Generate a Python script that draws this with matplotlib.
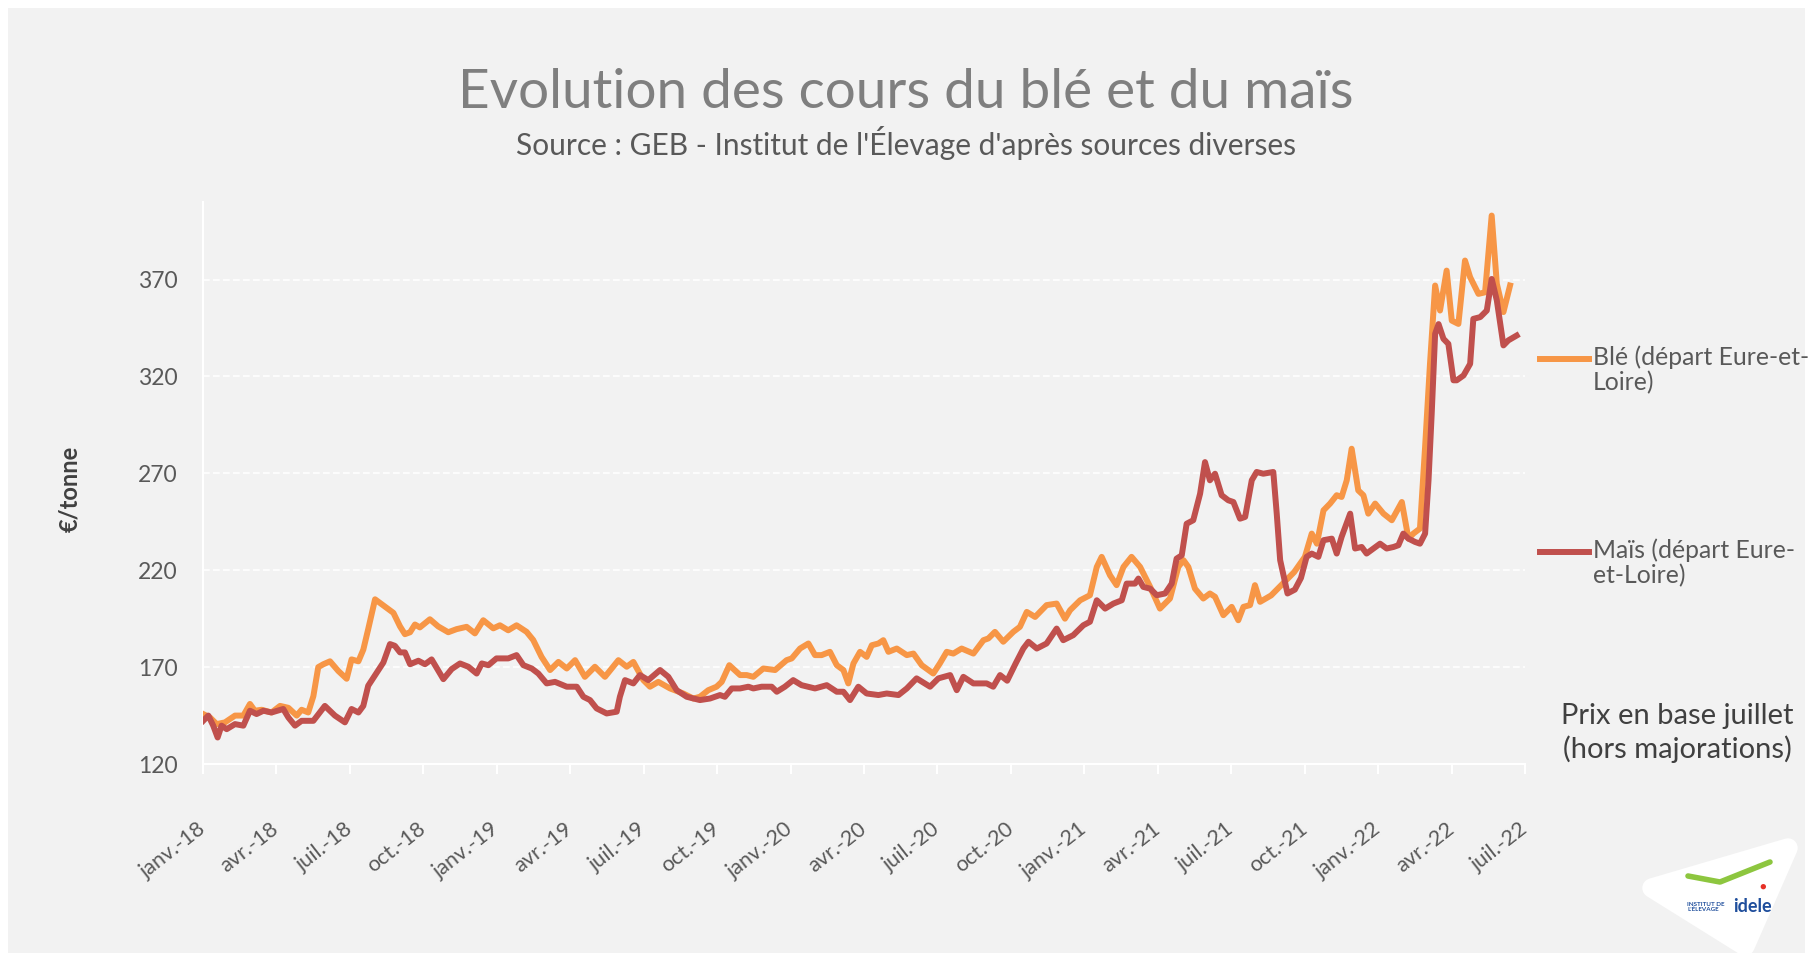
import matplotlib
matplotlib.use("Agg")
import matplotlib.pyplot as plt
from matplotlib.patches import Rectangle, Polygon
from matplotlib.lines import Line2D

plt.rcParams['font.family'] = ['Lato', 'DejaVu Sans']

# mois écoulés depuis janv. 2018 / prix en €/tonne
ble_mois = [0.01, 0.29, 0.56, 0.9, 1.31, 1.65, 1.92, 2.12, 2.4, 2.8, 3.15, 3.49, 3.83, 4.03, 4.3,
            4.51, 4.71, 4.92, 5.19, 5.53, 5.87, 6.07, 6.35, 6.55, 6.75, 7.03, 7.3, 7.78, 8.05, 8.25,
            8.46, 8.66, 8.86, 9.27, 9.61, 10.02, 10.36, 10.77, 11.11, 11.45, 11.86, 12.13, 12.47,
            12.81, 13.22, 13.49, 13.83, 14.18, 14.52, 14.86, 15.2, 15.6, 16.01, 16.42, 16.97, 17.31,
            17.58, 17.99, 18.26, 18.6, 19.08, 19.62, 20.03, 20.3, 20.64, 20.98, 21.19, 21.5, 21.94,
            22.21, 22.48, 22.89, 23.37, 23.84, 24.05, 24.39, 24.73, 25.0, 25.27, 25.61, 25.89, 26.16,
            26.36, 26.57, 26.84, 27.11, 27.32, 27.59, 27.79, 28.0, 28.34, 28.75, 29.02, 29.36, 29.83,
            30.1, 30.38, 30.65, 30.99, 31.47, 31.88, 32.08, 32.35, 32.69, 33.1, 33.37, 33.65, 33.99,
            34.46, 34.87, 35.21, 35.42, 35.83, 36.23, 36.51, 36.71, 37.05, 37.32, 37.6, 37.93, 38.28,
            38.69, 39.09, 39.5, 39.84, 40.05, 40.25, 40.52, 40.86, 41.13, 41.34, 41.68, 42.02, 42.29,
            42.5, 42.77, 42.97, 43.18, 43.63, 44.1, 44.57, 45.01, 45.29, 45.5, 45.77, 46.04, 46.31,
            46.51, 46.72, 46.92, 47.19, 47.4, 47.6, 47.88, 48.22, 48.56, 48.97, 49.24, 49.44, 49.71,
            49.92, 50.12, 50.33, 50.53, 50.8, 51.01, 51.28, 51.55, 51.76, 52.1, 52.37, 52.64, 52.85,
            53.12, 53.39]
ble_prix = [145.8, 144, 140.6, 141.5, 145, 145, 151, 147.5, 148, 146.6, 150, 149, 145, 148, 146.6,
            155, 170, 171.5, 173, 168, 164, 174, 173, 179, 189.6, 205, 202.5, 198, 191, 187,
            188, 192, 190.5, 194.7, 191, 188, 189.6, 190.8, 187.4, 194.2, 190, 191.6, 189,
            191.6, 188.2, 184, 175.3, 168.5, 172.7, 169.3, 173.6, 165, 170.2, 165, 173.6, 170.2,
            172.7, 163.3, 159.9, 162.4, 159, 156.4, 153.8, 154.7, 158.1, 159.9, 162.4, 171, 165.9,
            165.9, 165, 169.3, 168.5, 173.6, 174.5, 179.6, 182.2, 176.2, 176.2, 177.9, 171, 168.5,
            161.6, 171.9, 177.9, 175.3, 181.3, 182.2, 183.9, 177.9, 179.6, 176.2, 177, 171, 166.7,
            171.9, 177.9, 177, 179.6, 177, 183.9, 184.8, 188.2, 183.1, 188.2, 190.8, 198.5, 195.9,
            202, 202.8, 195, 199.4, 204.5, 207.1, 221.7, 226.9, 217.4, 212.3, 221.7, 226.9, 221.7,
            211.4, 200.2, 205.4, 221.7, 225.2, 221.7, 210.5, 205.4, 208, 206.3, 196.8, 201.1, 194.2,
            201.1, 202, 212.3, 203.7, 207, 213, 219, 226.9, 238.9, 233.7, 250.9, 254.4, 258.7,
            257.8, 266.4, 282.7, 261.2, 258.7, 249.2, 254.4, 249.2, 245.8, 255.2, 236.3, 238.9, 241.5,
            283.6, 326.5, 366.9, 354, 374.6, 348.8, 347.1, 379.8, 371.2, 362.6, 363.4, 403, 367.8,
            353.2, 366.9]

mais_mois = [0.01, 0.22, 0.42, 0.6, 0.76, 0.97, 1.31, 1.65, 1.92, 2.19, 2.47, 2.8, 3.28, 3.49, 3.76,
             4.03, 4.51, 4.98, 5.39, 5.8, 6.07, 6.35, 6.55, 6.75, 7.09, 7.37, 7.64, 7.84, 8.05, 8.25,
             8.46, 8.8, 9.07, 9.34, 9.82, 10.16, 10.5, 10.84, 11.18, 11.39, 11.66, 11.99, 12.47, 12.81,
             13.09, 13.43, 13.7, 14.04, 14.38, 14.86, 15.27, 15.54, 15.81, 16.08, 16.49, 16.9, 17.03,
             17.24, 17.58, 17.85, 18.19, 18.67, 19.01, 19.35, 19.76, 20.3, 20.71, 21.12, 21.32, 21.6,
             21.94, 22.28, 22.48, 22.82, 23.23, 23.44, 23.77, 24.11, 24.45, 25.0, 25.48, 25.89, 26.16,
             26.43, 26.77, 27.11, 27.59, 27.93, 28.41, 28.75, 29.15, 29.7, 30.04, 30.52, 30.79, 31.06,
             31.47, 32.01, 32.28, 32.56, 32.85, 33.2, 33.51, 33.72, 34.06, 34.46, 34.87, 35.14, 35.55,
             35.96, 36.23, 36.51, 36.85, 37.19, 37.53, 37.73, 38.07, 38.21, 38.41, 38.69, 38.96, 39.3,
             39.57, 39.77, 39.98, 40.18, 40.45, 40.73, 40.93, 41.13, 41.34, 41.61, 41.88, 42.09, 42.36,
             42.57, 42.84, 43.04, 43.31, 43.72, 43.86, 44.0, 44.3, 44.6, 44.85, 45.08, 45.29, 45.56,
             45.77, 46.11, 46.31, 46.51, 46.86, 47.06, 47.33, 47.53, 47.81, 48.08, 48.35, 48.63, 48.83,
             49.03, 49.24, 49.51, 49.71, 49.92, 50.06, 50.19, 50.33, 50.47, 50.67, 50.87, 51.08, 51.21,
             51.49, 51.76, 51.89, 52.17, 52.44, 52.64, 52.85, 53.12, 53.32, 53.66]
mais_prix = [142.3, 145, 139.8, 133.7, 139.8, 138, 140.6, 139.8, 147.5, 145.8, 147.5, 146.6, 148.4, 144, 139.8,
             142.3, 142.3, 150, 145, 141.5, 148.4, 146.6, 150, 160.4, 167, 172.4, 181.9, 181, 177.6, 177.6,
             171.5, 173.3, 171.5, 174, 163.8, 169, 171.9, 170.2, 166.7, 171.9, 171, 174.5, 174.5, 176.2,
             171, 169.3, 166.7, 161.6, 162.4, 159.9, 159.9, 154.7, 153, 148.7, 146.1, 147, 154.7,
             163.3, 161.6, 165.9, 163.3, 168.5, 165, 158.1, 154.7, 153, 153.8, 155.6, 154.7, 159,
             159, 159.9, 159, 159.9, 159.9, 157.3, 159.9, 163.3, 160.7, 159, 160.7, 157.3, 157.3,
             153, 159.9, 156.4, 155.6, 156.4, 155.6, 159, 164.2, 159.9, 164.2, 165.9, 158.1, 165,
             161.6, 161.6, 159.9, 165.9, 163, 172, 179.6, 183.1, 179.6, 182.2, 189.9, 183.9, 186.5,
             191.6, 193.4, 204.5, 200.2, 202.8, 204.5, 213.1, 213.1, 215.7, 211.4, 210.5, 207.1, 208,
             213.1, 226, 227.7, 244, 245.8, 259.5, 275.8, 266.4, 269.8, 258.7, 256.1, 255.2, 246.6,
             247.5, 266.4, 270.7, 269.8, 270.7, 249.2, 225.2, 208, 210, 216, 226.9, 228.6, 226.9,
             235.5, 236.3, 228.6, 237.2, 249.2, 231.2, 232, 228.6, 231.2, 233.7, 231.2, 232, 232.9,
             238.9, 236.3, 234.6, 233.7, 238.9, 266.4, 300.8, 342, 347, 339.4, 336.8, 318, 318,
             320.5, 326.5, 349.7, 350.6, 354, 370.3, 359.2, 336, 338.6, 341.1]

tick_mois = list(range(0, 55, 3))
tick_labels = ['janv.-18', 'avr.-18', 'juil.-18', 'oct.-18',
               'janv.-19', 'avr.-19', 'juil.-19', 'oct.-19',
               'janv.-20', 'avr.-20', 'juil.-20', 'oct.-20',
               'janv.-21', 'avr.-21', 'juil.-21', 'oct.-21',
               'janv.-22', 'avr.-22', 'juil.-22']
y_ticks = [120, 170, 220, 270, 320, 370]

ORANGE = '#F79646'
ROUGE = '#C0504D'
GRIS = '#595959'

fig = plt.figure(figsize=(18.12, 9.56), dpi=100, facecolor='white')
fig.patches.append(Rectangle((8 / 1812, 3 / 956), 1797 / 1812, 945 / 956, transform=fig.transFigure,
                             facecolor='#F2F2F2', edgecolor='none', zorder=-10))

ax = fig.add_axes([0.112, 0.2008, 0.7296, 0.5879])
ax.patch.set_alpha(0)

ax.plot(ble_mois, ble_prix, color=ORANGE, lw=4.3, solid_joinstyle='round', zorder=3)
ax.plot(mais_mois, mais_prix, color=ROUGE, lw=4.3, solid_joinstyle='round', zorder=4)

ax.set_xlim(0, 54)
ax.set_ylim(120, 410)
ax.set_yticks(y_ticks)
ax.set_xticks(tick_mois)
ax.set_xticklabels(tick_labels, rotation=38, ha='right', va='center', rotation_mode='anchor')
ax.tick_params(axis='x', colors='white', length=7, width=1.5, pad=38, labelsize=15.5, labelcolor=GRIS)
ax.tick_params(axis='y', length=0, pad=18, labelsize=16.5, labelcolor=GRIS)
ax.grid(axis='y', color='white', lw=1.2, ls=(0, (4, 2)))
ax.set_axisbelow(True)
for s in ['top', 'right']:
    ax.spines[s].set_visible(False)
for s in ['left', 'bottom']:
    ax.spines[s].set_color('white')
    ax.spines[s].set_linewidth(1.5)

ax.set_ylabel('€/tonne', fontsize=17, fontweight='bold', color='#404040', labelpad=0)
ax.yaxis.set_label_coords(-0.092, 0.49)

fig.text(0.5, 1 - 92 / 956, 'Evolution des cours du blé et du maïs', ha='center', va='center',
         fontsize=39.5, color='#7F7F7F')
fig.text(0.5, 1 - 143 / 956, "Source : GEB - Institut de l'Élevage d'après sources diverses",
         ha='center', va='center', fontsize=21.5, color=GRIS)

# légende
for lab, col, yc in [('Blé (départ Eure-et-\nLoire)', ORANGE, 359),
                     ('Maïs (départ Eure-\net-Loire)', ROUGE, 552)]:
    fig.add_artist(Line2D([1540 / 1812, 1589 / 1812], [1 - yc / 956, 1 - yc / 956],
                          color=col, lw=4.3, transform=fig.transFigure))
    fig.text(1593 / 1812, 1 - (yc - 14) / 956, lab, ha='left', va='top', fontsize=17.8,
             color=GRIS, linespacing=1.15)

fig.text(1677 / 1812, 1 - 733 / 956, 'Prix en base juillet\n(hors majorations)', ha='center',
         va='center', fontsize=21, color='#404040', linespacing=1.25)

# logo idele
fig.patches.append(Polygon([(1652 / 1812, 1 - 888 / 956), (1788 / 1812, 1 - 848 / 956),
                            (1745 / 1812, 1 - 946 / 956)], closed=True, transform=fig.transFigure,
                           facecolor='white', edgecolor='white', lw=14, joinstyle='round', zorder=1))
fig.add_artist(Line2D([1688 / 1812, 1720 / 1812, 1770 / 1812],
                      [1 - 876 / 956, 1 - 882 / 956, 1 - 862 / 956],
                      color='#8DC63F', lw=4, transform=fig.transFigure, solid_capstyle='round'))
fig.text(1687 / 1812, 1 - 907 / 956, "INSTITUT DE\nL'ÉLEVAGE", fontsize=4.5, fontweight='bold',
         color='#1F4E9C', ha='left', va='center', linespacing=1.0)
fig.text(1733 / 1812, 1 - 907 / 956, 'idele', fontsize=13, fontweight='bold',
         color='#1F4E9C', ha='left', va='center')
fig.text(1763 / 1812, 1 - 886 / 956, '●', fontsize=8, color='#E63027', ha='center', va='center')

fig.savefig('out.png', dpi=100, facecolor='white')
